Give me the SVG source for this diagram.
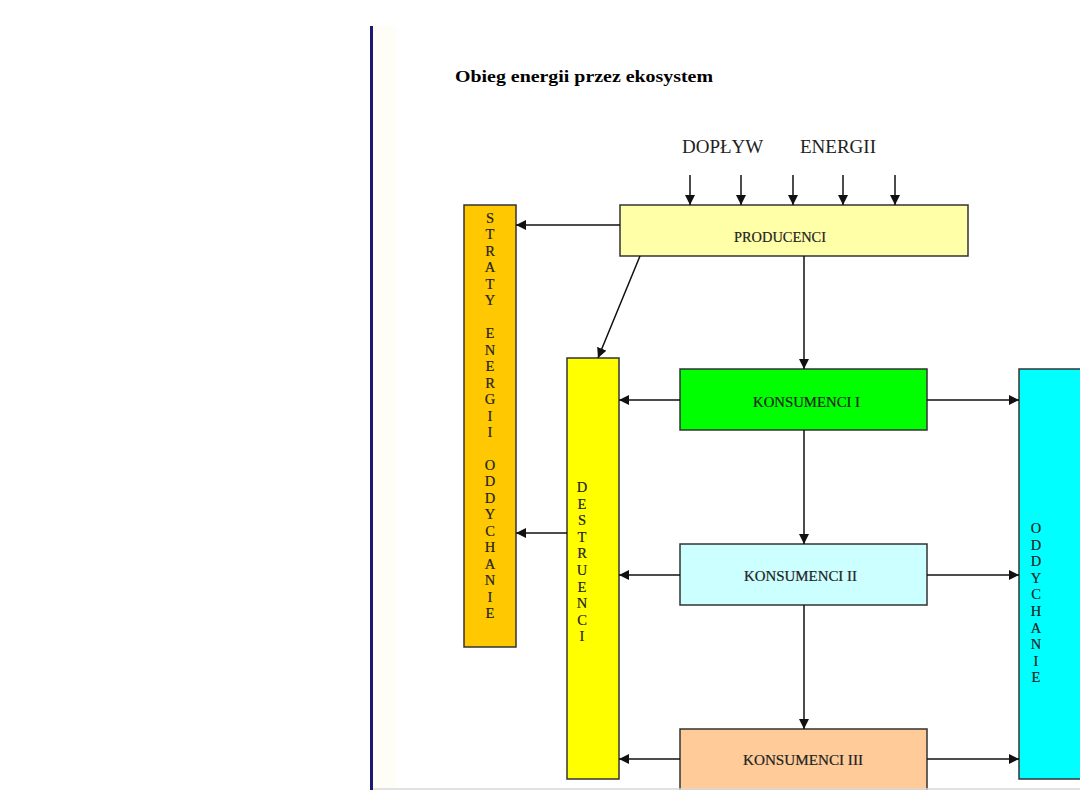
<svg xmlns="http://www.w3.org/2000/svg" width="1080" height="810" viewBox="0 0 1080 810">
<style>
.box{stroke:#333;stroke-width:1.5}
.lbl{font-family:"Liberation Serif",serif;font-size:14.5px;fill:#222;stroke:#222;stroke-width:0.2}
.vl{font-family:"Liberation Serif",serif;font-size:14.5px;fill:#222;stroke:#222;stroke-width:0.2;text-anchor:middle}
.c{stroke:#111;stroke-width:1.5;fill:none;marker-end:url(#ah)}
</style>
<defs>
<marker id="ah" viewBox="0 0 10 10" refX="10" refY="5" markerWidth="10" markerHeight="10" markerUnits="userSpaceOnUse" orient="auto">
<path d="M0,0 L10,5 L0,10 z" fill="#111"/>
</marker>
</defs>
<rect width="1080" height="810" fill="#fff"/>
<rect x="374" y="26" width="22" height="763" fill="#fefef7"/>
<line x1="371.5" y1="26" x2="371.5" y2="790" stroke="#1a1a70" stroke-width="3"/>
<text x="455" y="82" font-family="Liberation Serif,serif" font-weight="bold" font-size="17" textLength="258" lengthAdjust="spacingAndGlyphs">Obieg energii przez ekosystem</text>
<text x="682" y="153" font-family="Liberation Serif,serif" font-size="19" fill="#222">DOPŁYW</text>
<text x="800" y="153" font-family="Liberation Serif,serif" font-size="19" fill="#222">ENERGII</text>

<g id="producenci">
<rect class="box" x="620" y="205" width="348" height="51" fill="#ffffa8"/>
<text class="lbl" x="734" y="242" textLength="92" lengthAdjust="spacingAndGlyphs">PRODUCENCI</text>
</g>
<g id="straty">
<rect class="box" x="464" y="205" width="52" height="442" fill="#ffc800"/>
<text class="vl" x="490" y="223"><tspan x="490">S</tspan><tspan x="490" dy="16.46">T</tspan><tspan x="490" dy="16.46">R</tspan><tspan x="490" dy="16.46">A</tspan><tspan x="490" dy="16.46">T</tspan><tspan x="490" dy="16.46">Y</tspan><tspan x="490" dy="32.92">E</tspan><tspan x="490" dy="16.46">N</tspan><tspan x="490" dy="16.46">E</tspan><tspan x="490" dy="16.46">R</tspan><tspan x="490" dy="16.46">G</tspan><tspan x="490" dy="16.46">I</tspan><tspan x="490" dy="16.46">I</tspan><tspan x="490" dy="32.92">O</tspan><tspan x="490" dy="16.46">D</tspan><tspan x="490" dy="16.46">D</tspan><tspan x="490" dy="16.46">Y</tspan><tspan x="490" dy="16.46">C</tspan><tspan x="490" dy="16.46">H</tspan><tspan x="490" dy="16.46">A</tspan><tspan x="490" dy="16.46">N</tspan><tspan x="490" dy="16.46">I</tspan><tspan x="490" dy="16.46">E</tspan></text>
</g>
<g id="destruenci">
<rect class="box" x="567" y="358" width="52" height="421" fill="#ffff00"/>
<text class="vl" x="582" y="492"><tspan x="582">D</tspan><tspan x="582" dy="16.6">E</tspan><tspan x="582" dy="16.6">S</tspan><tspan x="582" dy="16.6">T</tspan><tspan x="582" dy="16.6">R</tspan><tspan x="582" dy="16.6">U</tspan><tspan x="582" dy="16.6">E</tspan><tspan x="582" dy="16.6">N</tspan><tspan x="582" dy="16.6">C</tspan><tspan x="582" dy="16.6">I</tspan></text>
</g>
<g id="konsumenci1">
<rect class="box" x="680" y="369" width="247" height="61" fill="#00ff00"/>
<text class="lbl" x="753" y="407" textLength="107" lengthAdjust="spacingAndGlyphs">KONSUMENCI I</text>
</g>
<g id="konsumenci2">
<rect class="box" x="680" y="544" width="247" height="61" fill="#ccffff"/>
<text class="lbl" x="744" y="581" textLength="113" lengthAdjust="spacingAndGlyphs">KONSUMENCI II</text>
</g>
<g id="konsumenci3">
<rect class="box" x="680" y="729" width="247" height="70" fill="#ffcc99"/>
<text class="lbl" x="743" y="765" textLength="120" lengthAdjust="spacingAndGlyphs">KONSUMENCI  III</text>
</g>
<rect x="373" y="790" width="707" height="20" fill="#fff"/>
<line x1="373" y1="789" x2="1080" y2="789" stroke="#d8d8d8" stroke-width="1.5"/>
<g id="oddychanie">
<rect class="box" x="1019" y="369" width="70" height="410" fill="#00ffff"/>
<text class="vl" x="1036" y="533"><tspan x="1036">O</tspan><tspan x="1036" dy="16.6">D</tspan><tspan x="1036" dy="16.6">D</tspan><tspan x="1036" dy="16.6">Y</tspan><tspan x="1036" dy="16.6">C</tspan><tspan x="1036" dy="16.6">H</tspan><tspan x="1036" dy="16.6">A</tspan><tspan x="1036" dy="16.6">N</tspan><tspan x="1036" dy="16.6">I</tspan><tspan x="1036" dy="16.6">E</tspan></text>
</g>

<g id="connectors">
<line class="c" x1="690" y1="175" x2="690" y2="205"/>
<line class="c" x1="741" y1="175" x2="741" y2="205"/>
<line class="c" x1="793" y1="175" x2="793" y2="205"/>
<line class="c" x1="843" y1="175" x2="843" y2="205"/>
<line class="c" x1="895" y1="175" x2="895" y2="205"/>
<line class="c" x1="620" y1="225" x2="516" y2="225"/>
<line class="c" x1="640" y1="256" x2="598" y2="358"/>
<line class="c" x1="804" y1="256" x2="804" y2="369"/>
<line class="c" x1="680" y1="400" x2="619" y2="400"/>
<line class="c" x1="927" y1="400" x2="1019" y2="400"/>
<line class="c" x1="804" y1="430" x2="804" y2="544"/>
<line class="c" x1="680" y1="575" x2="619" y2="575"/>
<line class="c" x1="927" y1="575" x2="1019" y2="575"/>
<line class="c" x1="804" y1="605" x2="804" y2="729"/>
<line class="c" x1="680" y1="759" x2="619" y2="759"/>
<line class="c" x1="927" y1="759" x2="1019" y2="759"/>
<line class="c" x1="567" y1="533" x2="516" y2="533"/>
</g>
</svg>
